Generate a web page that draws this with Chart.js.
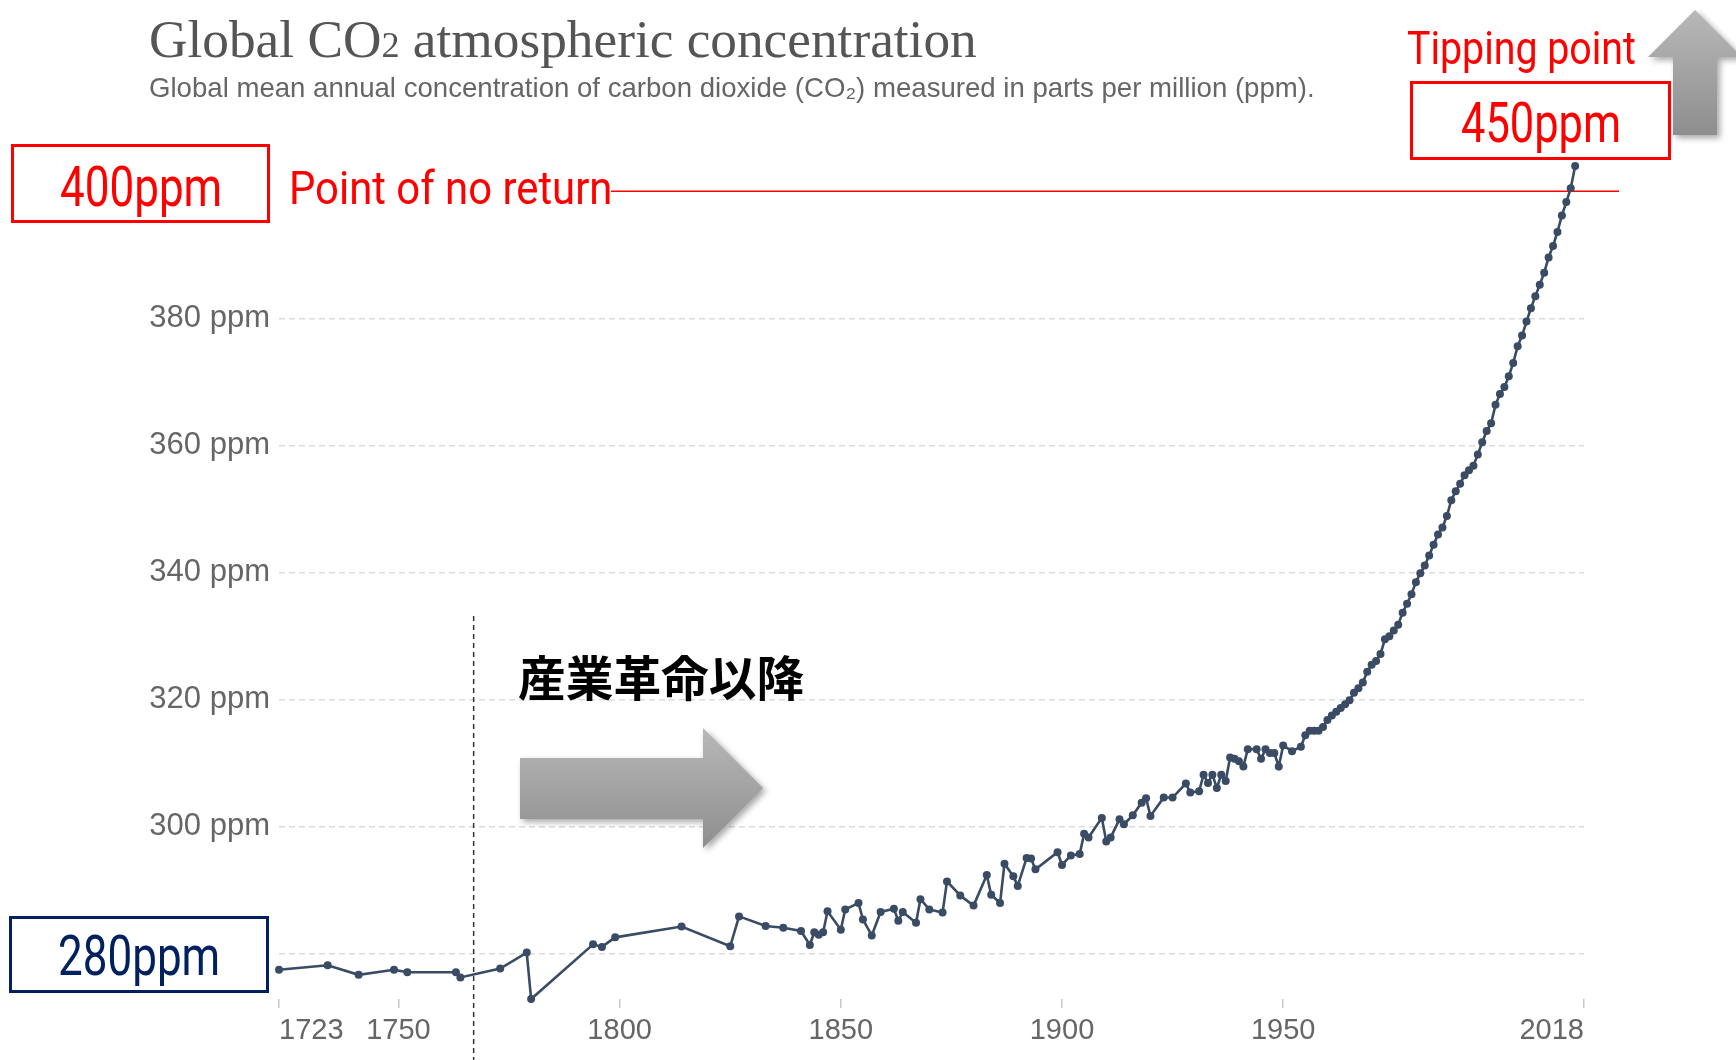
<!DOCTYPE html>
<html>
<head>
<meta charset="utf-8">
<script src="https://cdn.jsdelivr.net/npm/chart.js@4.4.1/dist/chart.umd.min.js"></script>
<style>
body { margin: 0; background: #fff; overflow: hidden; }
#wrap { position: relative; width: 1736px; height: 1060px; overflow: hidden; }
#chart { position: absolute; left: 0; top: 0; }
.t { position: absolute; white-space: nowrap; line-height: 1; transform-origin: 0 0; }
.box { position: absolute; box-sizing: border-box; border: 3px solid red; background: #fff; }
.red { color: #ff0000; font-family: Roboto, sans-serif; }
.arrowWrap { position: absolute; filter: drop-shadow(3px 3px 3px rgba(0,0,0,0.35)); }
.arrow { width: 100%; height: 100%; background: linear-gradient(#b8b8b8, #8e8e8e); }
</style>
</head>
<body>
<div id="wrap">
  <canvas id="chart" width="1736" height="1060"></canvas>

  <div class="t" id="title" style="left:149px; top:13px; font-family:'Liberation Serif', serif; font-size:53.3px; color:#555;">Global CO<span style="font-size:68%">2</span> atmospheric concentration</div>
  <div class="t" id="subtitle" style="left:149px; top:74px; font-family:'Liberation Sans', Arial, sans-serif; font-size:27.6px; color:#666;">Global mean annual concentration of carbon dioxide (CO₂) measured in parts per million (ppm).</div>

  <div class="box" style="left:11px; top:144px; width:259px; height:79px;"></div>
  <div class="t red" style="left:60px; top:160px; font-size:55px; transform:scaleX(0.8);">400ppm</div>
  <div class="t red" style="left:289px; top:164px; font-size:47px; transform:scaleX(0.89);">Point of no return</div>

  <div class="t red" style="left:1407px; top:26px; font-size:45.5px; transform:scaleX(0.864);">Tipping point</div>
  <div class="box" style="left:1410px; top:81px; width:261px; height:79px;"></div>
  <div class="t red" style="left:1461px; top:95px; font-size:56px; transform:scaleX(0.775);">450ppm</div>

  <div class="box" style="left:9px; top:916px; width:260px; height:77px; border-color:#002060;"></div>
  <div class="t" style="left:58px; top:929px; font-size:55px; color:#002060; font-family:Roboto, sans-serif; transform:scaleX(0.8);">280ppm</div>

  <div class="t" style="left:518px; top:652px; font-size:47.7px; font-weight:bold; color:#000; font-family:'Noto Sans CJK JP', sans-serif;">産業革命以降</div>

  <div class="arrowWrap" style="left:520px; top:728px; width:243px; height:120px;">
    <div class="arrow" style="clip-path:polygon(0 30px, 183px 30px, 183px 0, 243px 60px, 183px 120px, 183px 91px, 0 91px);"></div>
  </div>
  <div class="arrowWrap" style="left:1648px; top:10px; width:94px; height:125px;">
    <div class="arrow" style="clip-path:polygon(47px 0, 94px 47px, 69px 47px, 69px 125px, 25px 125px, 25px 47px, 0 47px);"></div>
  </div>
</div>

<script>
// Global mean CO2 concentration (ppm)
const years = [
  1723, 1734, 1741, 1749, 1752, 1763, 1764, 1773, 1779, 1780,
  1794, 1796, 1799, 1814, 1825, 1827, 1833, 1837, 1841, 1843,
  1844, 1845, 1846, 1847, 1850, 1851, 1854, 1855, 1857, 1859,
  1862, 1863, 1864, 1867, 1868, 1870, 1873, 1874, 1877, 1880,
  1883, 1884, 1886, 1887, 1889, 1890, 1892, 1893, 1894, 1899,
  1900, 1902, 1904, 1905, 1906, 1909, 1910, 1911, 1913, 1914,
  1916, 1918, 1919, 1920, 1923, 1925, 1928, 1929, 1931, 1932,
  1933, 1934, 1935, 1936, 1937, 1938, 1939, 1940, 1941, 1942,
  1944, 1945, 1946, 1947, 1948, 1949, 1950, 1952, 1954, 1955,
  1956, 1957, 1958, 1959, 1960, 1961, 1962, 1963, 1964, 1965,
  1966, 1967, 1968, 1969, 1970, 1971, 1972, 1973, 1974, 1975,
  1976, 1977, 1978, 1979, 1980, 1981, 1982, 1983, 1984, 1985,
  1986, 1987, 1988, 1989, 1990, 1991, 1992, 1993, 1994, 1995,
  1996, 1997, 1998, 1999, 2000, 2001, 2002, 2003, 2004, 2005,
  2006, 2007, 2008, 2009, 2010, 2011, 2012, 2013, 2014, 2015,
  2016
];
const co2ppm = [
  277.5, 278.2, 276.7, 277.5, 277.1, 277.1, 276.3, 277.7, 280.2, 272.9,
  281.5, 281.1, 282.6, 284.3, 281.2, 285.9, 284.4, 284.1, 283.6, 281.4,
  283.4, 283.0, 283.4, 286.7, 283.8, 287.0, 288.0, 285.4, 282.9, 286.6,
  287.1, 285.2, 286.6, 284.9, 288.6, 287.0, 286.5, 291.4, 289.2, 287.6,
  292.4, 289.3, 288.0, 294.2, 292.2, 290.7, 295.1, 295.0, 293.3, 296.0,
  294.0, 295.5, 295.7, 298.9, 298.3, 301.4, 297.7, 298.3, 301.2, 300.4,
  301.8, 303.8, 304.5, 301.7, 304.6, 304.6, 306.8, 305.4, 305.6, 308.2,
  306.9, 308.2, 306.1, 308.2, 307.2, 310.9, 310.7, 310.3, 309.5, 312.2,
  312.2, 310.7, 312.2, 311.6, 311.6, 309.5, 312.8, 311.9, 312.6, 314.4,
  315.1, 315.1, 315.1, 315.7, 316.8, 317.5, 318.1, 318.7, 319.3, 319.9,
  321.1, 321.8, 322.7, 324.4, 325.5, 326.1, 327.2, 329.5, 330.0, 330.9,
  331.8, 333.7, 335.1, 336.6, 338.5, 339.9, 341.1, 342.7, 344.4, 346.0,
  347.1, 348.9, 351.4, 352.8, 354.0, 355.3, 356.1, 356.8, 358.6, 360.5,
  362.3, 363.5, 366.4, 368.1, 369.2, 370.9, 373.0, 375.6, 377.3, 379.5,
  381.6, 383.5, 385.3, 387.2, 389.6, 391.4, 393.6, 396.2, 398.3, 400.5,
  404.0
];

const xTicks = [1723, 1750, 1800, 1850, 1900, 1950, 2018];
const yTicks = [280, 300, 320, 340, 360, 380];
const noReturnPpm = 400;
const industrialYear = 1767;

// red 400ppm line and the dashed industrial revolution line
const markerLines = {
  id: 'markerLines',
  beforeDatasetsDraw(chart) {
    const ctx = chart.ctx;
    const x = chart.scales.x;
    const y = chart.scales.y;
    ctx.save();
    let yy = y.getPixelForValue(noReturnPpm);
    ctx.strokeStyle = '#ff0000';
    ctx.lineWidth = 1.5;
    ctx.beginPath();
    ctx.moveTo(611, yy);
    ctx.lineTo(1619, yy);
    ctx.stroke();

    let xx = x.getPixelForValue(industrialYear);
    ctx.strokeStyle = '#333';
    ctx.lineWidth = 1.5;
    ctx.setLineDash([5, 4]);
    ctx.beginPath();
    ctx.moveTo(xx, 616);
    ctx.lineTo(xx, 1060);
    ctx.stroke();
    ctx.restore();
  }
};

let ctx = document.getElementById('chart').getContext('2d');
let co2Chart = new Chart(ctx, {
  type: 'line',
  data: {
    datasets: [{
      data: years.map((yr, i) => ({ x: yr, y: co2ppm[i] })),
      borderColor: '#3a4b64',
      backgroundColor: '#3a4b64',
      borderWidth: 2.6,
      pointRadius: 4,
      pointBorderWidth: 0,
      tension: 0,
      clip: false
    }]
  },
  options: {
    responsive: false,
    animation: false,
    devicePixelRatio: 1,
    layout: { padding: { top: 150, right: 152, left: 0, bottom: 0 } },
    plugins: { legend: { display: false }, tooltip: { enabled: false } },
    scales: {
      x: {
        type: 'linear',
        min: 1723,
        max: 2018,
        afterBuildTicks: axis => { axis.ticks = xTicks.map(v => ({ value: v })); },
        afterFit: axis => { axis.height = 61; },
        grid: { drawOnChartArea: false, drawTicks: true, tickLength: 9, color: '#c8c8c8', lineWidth: 1.5 },
        border: { display: false },
        ticks: {
          autoSkip: false,
          maxRotation: 0,
          align: 'inner',
          padding: 6,
          color: '#666',
          font: { family: "'Liberation Sans', Arial, sans-serif", size: 29 },
          callback: v => String(v)
        }
      },
      y: {
        min: 272.9,
        max: 406.5,
        afterBuildTicks: axis => { axis.ticks = yTicks.map(v => ({ value: v })); },
        afterFit: axis => { axis.width = 279; },
        grid: { color: '#dcdcdc', lineWidth: 1.5, drawTicks: false },
        border: { display: false, dash: [6, 4] },
        ticks: {
          padding: 9,
          color: '#666',
          font: { family: "'Liberation Sans', Arial, sans-serif", size: 31 },
          callback: v => v + ' ppm'
        }
      }
    }
  },
  plugins: [markerLines]
});
</script>
</body>
</html>
